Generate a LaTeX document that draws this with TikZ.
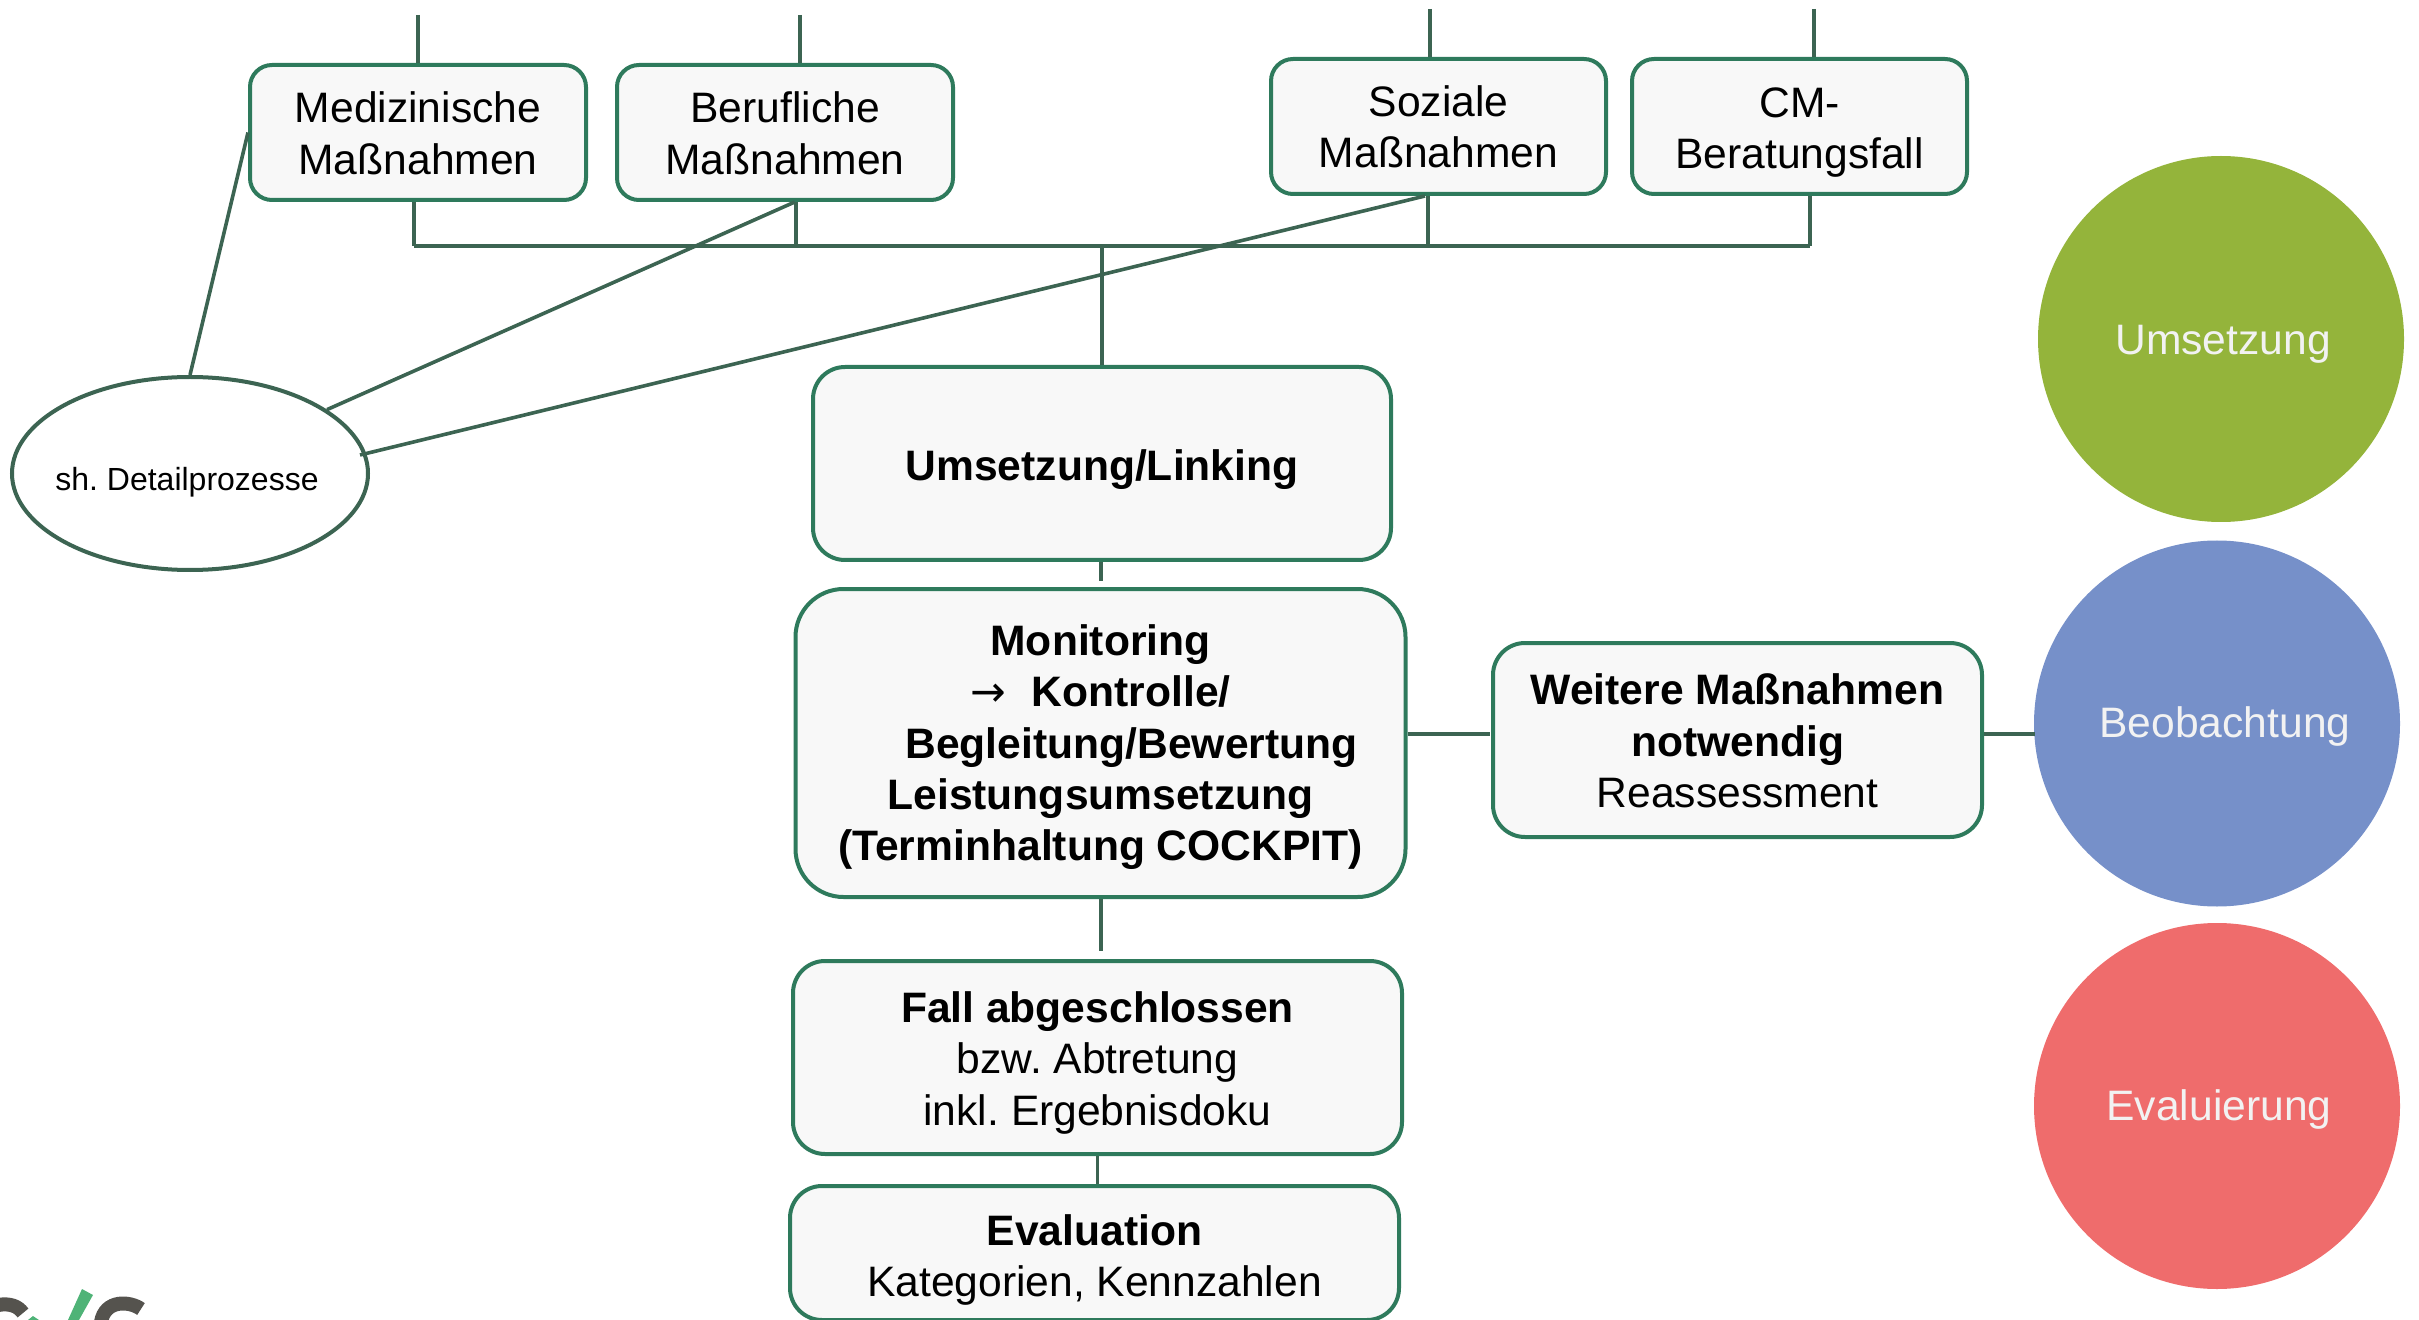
\documentclass[tikz,border=0pt]{standalone}
\usepackage{fontspec}
\setmainfont{Liberation Sans}
\newfontfamily\arrowfont{DejaVu Sans}
\usetikzlibrary{shapes.geometric}
\definecolor{boxline}{HTML}{2E7A5C}
\definecolor{boxfill}{HTML}{F8F8F8}
\definecolor{conn}{HTML}{3C6452}
\definecolor{cgreen}{HTML}{94B43B}
\definecolor{cblue}{HTML}{7690C9}
\definecolor{cred}{HTML}{EF6C6C}
\definecolor{logodark}{HTML}{55534E}
\definecolor{logogreen}{HTML}{4FB377}
\newcommand\lift[2]{\raisebox{\dimexpr-#1-5.3pt\relax}[0pt][0pt]{\begin{tabular}[c]{@{}c@{}}#2\end{tabular}}}
\tikzset{
  x=0.5pt,y=-0.5pt,
  base/.style={font=\fontsize{21.3}{25.7}\selectfont\frenchspacing,align=center,inner sep=0pt,line width=2pt},
  box/.style={base,draw=boxline,fill=boxfill,rounded corners=11pt},
  bigbox/.style={box,rounded corners=16pt},
  hugebox/.style={box,rounded corners=24pt},
  conline/.style={draw=conn,line width=1.8pt},
  phase/.style={base,circle,draw=none,minimum size=183pt,text=white!95!black},
}
\begin{document}
\begin{tikzpicture}
\useasboundingbox (0,0) rectangle (2419,1320);
\clip (0,0) rectangle (2419,1320);
% free ends
\coordinate (tm) at (418,15);
\coordinate (tb) at (800,15);
\coordinate (ts) at (1430,9);
\coordinate (tc) at (1814,9);
\coordinate (busL) at (414,246);
\coordinate (busB) at (796,246);
\coordinate (busS) at (1428,246);
\coordinate (busR) at (1810,246);
\coordinate (busM) at (1102,246);
\coordinate (stubA) at (1101,581);
\coordinate (stubB) at (1101,951);
\coordinate (detin) at (360,455);
\coordinate (linkW) at (1490,734);
\coordinate (linkP) at (2035,734);
% connectors below the boxes
\draw[conline] (busL) -- (busR);
\node[box,minimum width=168pt,minimum height=67.5pt] (med) at (418,132.5) {\lift{2.8pt}{Medizinische\\Maßnahmen}};
\node[box,minimum width=168pt,minimum height=67.5pt] (ber) at (785,132.5) {\lift{2.8pt}{Berufliche\\Maßnahmen}};
\node[box,minimum width=167.5pt,minimum height=67.5pt] (soz) at (1438.5,126.5) {\lift{2.4pt}{Soziale\\Maßnahmen}};
\node[box,minimum width=167.5pt,minimum height=67.5pt] (cmb) at (1799.5,126.5) {\lift{3pt}{CM-\\Beratungsfall}};
\node[bigbox,minimum width=289pt,minimum height=96.5pt,font=\fontsize{21.3}{25.7}\selectfont\bfseries] (ums) at (1102,463.5) {\lift{3pt}{Umsetzung/Linking}};
\node[hugebox,minimum width=305pt,minimum height=154pt,font=\fontsize{21.3}{25.7}\selectfont\bfseries] (mon) at (1100.5,743)
  {\lift{2.3pt}{Monitoring\\{\arrowfont\mdseries →}\hspace{0.6em}Kontrolle/\\\hspace*{31pt}Begleitung/Bewertung\\Leistungsumsetzung\\(Terminhaltung COCKPIT)}};
\node[bigbox,minimum width=244.5pt,minimum height=97pt] (wei) at (1737.5,740) {\lift{2.9pt}{\textbf{Weitere Maßnahmen}\\\textbf{notwendig}\\Reassessment}};
\node[bigbox,minimum width=304.5pt,minimum height=96.5pt] (fal) at (1097.5,1057.5) {\lift{2.8pt}{\textbf{Fall abgeschlossen}\\bzw. Abtretung\\inkl. Ergebnisdoku}};
\node[bigbox,minimum width=304.5pt,minimum height=67pt] (eva) at (1094.5,1253) {\lift{3.7pt}{\textbf{Evaluation}\\Kategorien, Kennzahlen}};
\node[base,ellipse,draw=conn,fill=white,minimum width=178pt,minimum height=96.5pt,font=\fontsize{16}{19}\selectfont\frenchspacing] (det) at (190,473.5) {\makebox[0pt]{\lift{3.5pt}{sh. Detailprozesse\hspace*{3pt}}}};
\node[phase,fill=cgreen] (pu) at (2221,339) {\makebox[0pt]{\lift{2.3pt}{\hspace*{2pt}Umsetzung}}};
\node[phase,fill=cblue] (pb) at (2217,723.5) {\makebox[0pt]{\lift{1.5pt}{\hspace*{8pt}Beobachtung}}};
\node[phase,fill=cred] (pe) at (2217,1106) {\makebox[0pt]{\lift{2pt}{\hspace*{2pt}Evaluierung}}};
% connectors
\draw[conline] (tm) -- (tm |- med.north);
\draw[conline] (tb) -- (tb |- ber.north);
\draw[conline] (ts) -- (ts |- soz.north);
\draw[conline] (tc) -- (tc |- cmb.north);
\draw[conline] (busL) -- (busL |- med.south);
\draw[conline] (busB) -- (busB |- ber.south);
\draw[conline] (busS) -- (busS |- soz.south);
\draw[conline] (busR) -- (busR |- cmb.south);
\draw[conline] (busM) -- (busM |- ums.north);
\draw[conline] (stubA |- ums.south) -- (stubA);
\draw[conline] (stubB |- mon.south) -- (stubB);
\draw[conline] (fal.south) -- (fal.south |- eva.north);
\draw[conline] (mon.east |- linkW) -- (linkW);
\draw[conline] (wei.east |- linkP) -- (linkP);
\draw[conline] (med.west) -- (det.north);
\draw[conline] (ber.-82) -- (det.25);
\draw[conline] (soz.-101) -- (detin);
% logo fragment
\fill[logogreen] (82,1289) -- (93,1295) -- (79,1320) -- (68,1320) -- cycle;
\fill[logogreen] (28,1320) -- (33,1316) -- (39,1320) -- cycle;
\draw[logodark,line width=7pt] (-2,1305) .. controls (10,1303) and (18,1306) .. (23,1313);
\draw[logodark,line width=7pt] (141,1309) .. controls (130,1301) and (105,1299) .. (101,1322);
\end{tikzpicture}
\end{document}
